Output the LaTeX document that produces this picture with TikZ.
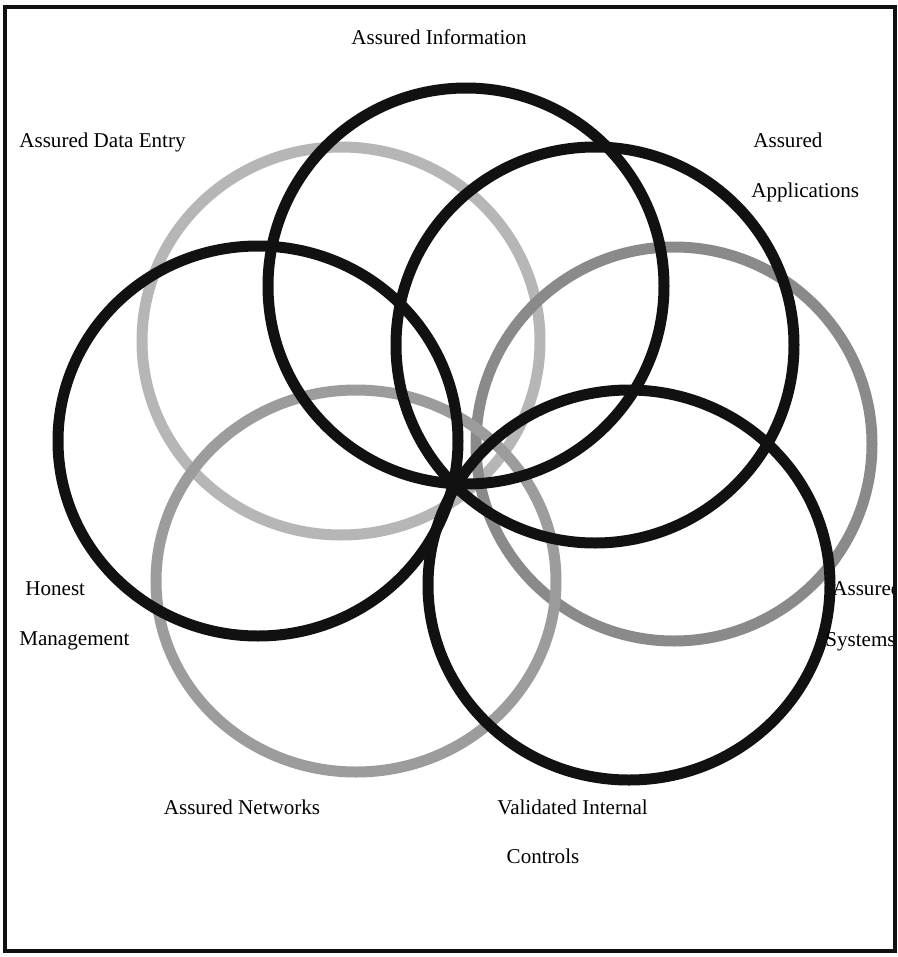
\documentclass[tikz,border=0pt]{standalone}
\usepackage{fontspec}
\setmainfont{Liberation Serif}
\usepackage{tikz}
\usepackage{xcolor}
\usetikzlibrary{positioning}

\definecolor{ringdark}{HTML}{111111}
\definecolor{ringmid}{HTML}{8A8A8A}
\definecolor{ringsoft}{HTML}{9C9C9C}
\definecolor{ringpale}{HTML}{B6B6B6}

\begin{document}
\begin{tikzpicture}[x=0.02cm,y=-0.02cm]

\tikzstyle{ring}=[
  line width=0.22cm
]
\tikzstyle{ringtext}=[
  inner sep=0pt,
  anchor=base west,
  font=\fontsize{12}{14}\selectfont
]

\useasboundingbox (0,0) rectangle (898,957);

% Gray rings
\draw[ring, ringpale] (341,341) ellipse[x radius=199, y radius=194];
\draw[ring, ringmid] (674,444) ellipse[x radius=198, y radius=197];
\draw[ring, ringsoft] (356,581) ellipse[x radius=200, y radius=191];

% Black rings
\draw[ring, ringdark] (258,441) ellipse[x radius=200, y radius=195];
\draw[ring, ringdark] (466,286) ellipse[x radius=198, y radius=198];
\draw[ring, ringdark] (595,345) ellipse[x radius=199, y radius=198];
\draw[ring, ringdark] (629,585) ellipse[x radius=201, y radius=195];

% Labels
\begin{scope}
\clip (7,9) rectangle (893,949);
\node[ringtext, anchor=base] (info) at (439,44) {Assured Information};
\node[ringtext] (entry) at (19,147) {Assured Data Entry};
\node[ringtext] (apps1) at (753,147) {Assured};
\node[ringtext] (apps2) at (751,197) {Applications};
\node[ringtext] (honest1) at (25,595) {Honest};
\node[ringtext] (honest2) at (19,645) {Management};
\node[ringtext] (sys1) at (832,595) {Assured};
\node[ringtext] (sys2) at (825,646) {Systems};
\node[ringtext, anchor=base] (nets) at (242,814) {Assured Networks};
\node[ringtext] (ctrl1) at (497,814) {Validated Internal};
\node[ringtext, anchor=base] (ctrl2) at (543,863) {Controls};
\end{scope}

% Frame
\draw[line width=0.08cm, ringdark] (5,7) rectangle (895,951);

\end{tikzpicture}
\end{document}
